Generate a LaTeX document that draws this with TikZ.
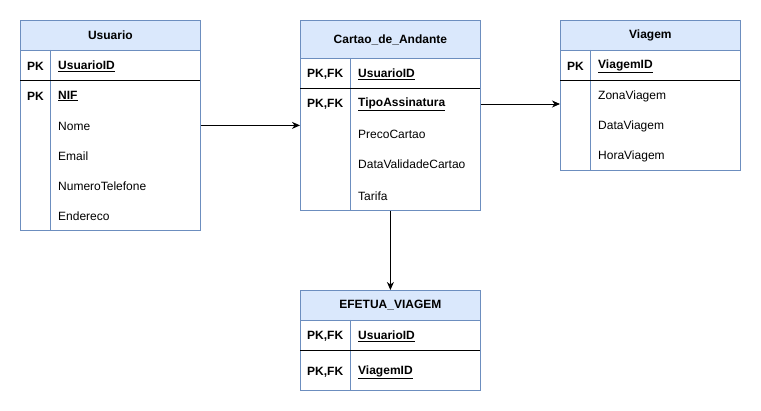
\documentclass[tikz,border=0pt]{standalone}
\usepackage{fontspec}
\setmainfont{Liberation Sans}
\usetikzlibrary{arrows.meta}
\definecolor{hdrfill}{HTML}{DAE8FC}
\definecolor{hdrline}{HTML}{6C8EBF}
\begin{document}
\begin{tikzpicture}[x=1pt,y=-1pt,
  tablebox/.style={draw=hdrline, fill=white, line width=0.8pt, anchor=north west, inner sep=0pt},
  hdrbox/.style={draw=hdrline, fill=hdrfill, line width=0.8pt, anchor=north west, inner sep=0pt, font=\fontsize{12}{14}\selectfont\bfseries},
  keytxt/.style={anchor=west, inner sep=0pt, font=\fontsize{12}{14}\selectfont\bfseries},
  fldtxt/.style={anchor=west, inner sep=0pt, font=\fontsize{12}{14}\selectfont},
  vdiv/.style={draw=hdrline, line width=0.8pt},
  hdiv/.style={draw=black, line width=0.8pt},
  conn/.style={draw=black, line width=0.9pt, -{Stealth[length=8pt,width=7pt,inset=2.5pt]}}
]
\useasboundingbox (0,0) rectangle (761,411);

% ---------- Usuario ----------
\node[tablebox, minimum width=180, minimum height=210] (usuario) at (20,20) {};
\node[hdrbox, minimum width=180, minimum height=30] (usuarioh) at (20,20) {Usuario};
\draw[vdiv] (50,50) -- (50,230);
\draw[hdiv] (20,80) -- (200,80);
\node[keytxt] (u1k) at (27,66) {PK};
\node[keytxt] (u1) at (58,66) {\underline{UsuarioID}};
\node[keytxt] (u2k) at (27,96) {PK};
\node[keytxt] (u2) at (58,96) {\underline{NIF}};
\node[fldtxt] (u3) at (58,126) {Nome};
\node[fldtxt] (u4) at (58,156) {Email};
\node[fldtxt] (u5) at (58,186) {NumeroTelefone};
\node[fldtxt] (u6) at (58,216) {Endereco};

% ---------- Cartao_de_Andante ----------
\node[tablebox, minimum width=180, minimum height=190] (cartao) at (300,20) {};
\node[hdrbox, minimum width=180, minimum height=38] (cartaoh) at (300,20) {Cartao\_de\_Andante};
\draw[vdiv] (350,58) -- (350,210);
\draw[hdiv] (300,88) -- (480,88);
\node[keytxt] (c1k) at (307,74) {PK,FK};
\node[keytxt] (c1) at (358,74) {\underline{UsuarioID}};
\node[keytxt] (c2k) at (307,104) {PK,FK};
\node[keytxt] (tipo) at (358,104) {\underline{TipoAssinatura}};
\node[fldtxt] (c3) at (358,134) {PrecoCartao};
\node[fldtxt] (c4) at (358,164) {DataValidadeCartao};
\node[fldtxt] (c5) at (358,196) {Tarifa};

% ---------- Viagem ----------
\node[tablebox, minimum width=180, minimum height=150] (viagem) at (560,20) {};
\node[hdrbox, minimum width=180, minimum height=30] (viagemh) at (560,20) {Viagem};
\draw[vdiv] (590,50) -- (590,170);
\draw[hdiv] (560,80) -- (740,80);
\node[keytxt] (v1k) at (567,66) {PK};
\node[keytxt] (v1) at (598,66) {\underline{ViagemID}};
\node[fldtxt] (v2) at (598,96) {ZonaViagem};
\node[fldtxt] (v3) at (598,126) {DataViagem};
\node[fldtxt] (v4) at (598,156) {HoraViagem};

% ---------- EFETUA_VIAGEM ----------
\node[tablebox, minimum width=180, minimum height=100] (efetua) at (300,290) {};
\node[hdrbox, minimum width=180, minimum height=30] (efetuah) at (300,290) {EFETUA\_VIAGEM};
\draw[vdiv] (350,320) -- (350,390);
\draw[hdiv] (300,350) -- (480,350);
\node[keytxt] (e1k) at (307,336) {PK,FK};
\node[keytxt] (e1) at (358,336) {\underline{UsuarioID}};
\node[keytxt] (e2k) at (307,372) {PK,FK};
\node[keytxt] (e2) at (358,372) {\underline{ViagemID}};

% ---------- Connectors ----------
\draw[conn] (usuario.east) -- (usuario.east -| cartao.west);
\draw[conn] (cartao.east |- tipo) -- (viagem.west |- tipo);
\draw[conn] (cartao.south) -- (efetua.north);
\end{tikzpicture}
\end{document}
